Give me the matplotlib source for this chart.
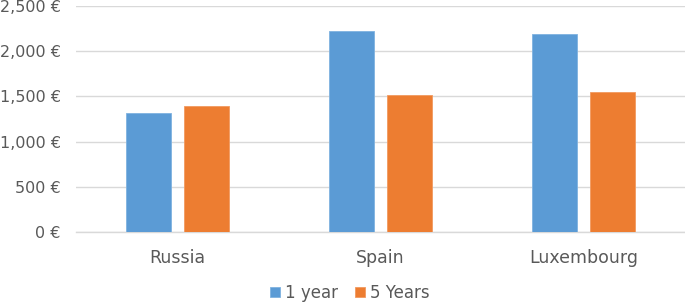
import numpy as np
import matplotlib.pyplot as plt
from matplotlib.ticker import FuncFormatter

countries = ["Russia", "Spain", "Luxembourg"]
one_year = [1313, 2223, 2190]
five_years = [1394, 1512, 1545]
series_labels = ["1 year", "5 Years"]

blue = "#5B9BD5"
orange = "#ED7D31"
text_col = "#595959"
grid_col = "#D9D9D9"

plt.rcParams['font.family'] = ['DejaVu Sans']

fig = plt.figure(figsize=(6.85, 3.03), dpi=100)
ax = fig.add_axes([76 / 685, 1 - 232 / 303, 1 - 76 / 685, 226 / 303])

x = np.arange(len(countries))
w = 0.224
off = 0.142
ax.bar(x - off, one_year, w, color=blue, edgecolor="#7FB2E0", linewidth=0.6,
       label=series_labels[0], zorder=3)
ax.bar(x + off, five_years, w, color=orange, edgecolor="#F29A60", linewidth=0.6,
       label=series_labels[1], zorder=3)

ax.set_xlim(-0.5, 2.5)
ax.set_ylim(0, 2500)
ax.set_yticks(np.arange(0, 2501, 500))
ax.yaxis.set_major_formatter(FuncFormatter(lambda v, p: f"{int(v):,} €"))
ax.set_xticks(x)
ax.set_xticklabels(countries)

ax.grid(axis="y", color=grid_col, linewidth=1.0, zorder=0)
for s in ax.spines.values():
    s.set_visible(False)
ax.spines["bottom"].set_visible(True)
ax.spines["bottom"].set_color(grid_col)
ax.spines["bottom"].set_linewidth(1.0)
ax.tick_params(axis="both", length=0, colors=text_col)
ax.tick_params(axis="y", pad=11, labelsize=11.5)
ax.tick_params(axis="x", pad=12, labelsize=12.5)

fig.legend(loc="center", bbox_to_anchor=(350 / 685, 1 - 293 / 303), ncol=2,
           frameon=False, handlelength=0.6, handleheight=0.6, handletextpad=0.3,
           columnspacing=1.0, labelcolor=text_col, fontsize=12)

fig.savefig("out.png", dpi=100)
